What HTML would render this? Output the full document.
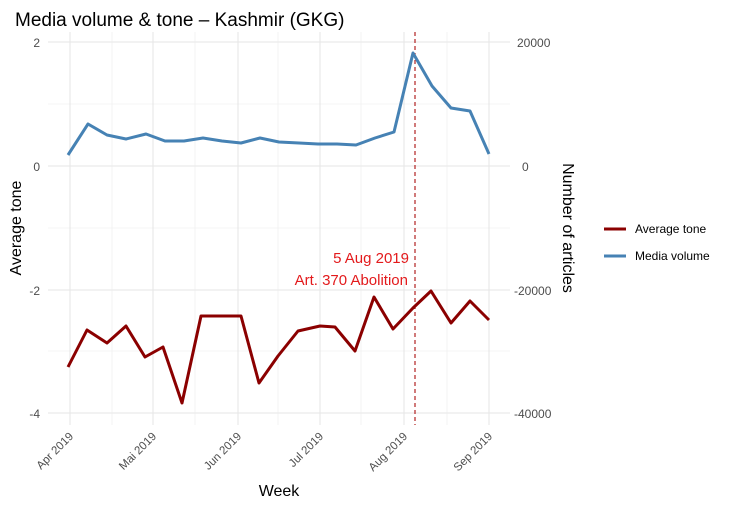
<!DOCTYPE html><html><head><style>body{margin:0;background:#fff}text{font-family:"Liberation Sans",sans-serif}</style></head><body>
<svg width="731" height="506" xmlns="http://www.w3.org/2000/svg">
<rect width="731" height="506" fill="#fff"/>
<g stroke="#ebebeb" stroke-width="0.6">
<line x1="48" x2="510" y1="104" y2="104"/><line x1="48" x2="510" y1="228" y2="228"/><line x1="48" x2="510" y1="351" y2="351"/>
<line x1="112" x2="112" y1="32" y2="425"/><line x1="195" x2="195" y1="32" y2="425"/><line x1="278" x2="278" y1="32" y2="425"/><line x1="361" x2="361" y1="32" y2="425"/><line x1="447" x2="447" y1="32" y2="425"/>
</g>
<g stroke="#e6e6e6" stroke-width="1.1">
<line x1="48" x2="510" y1="42" y2="42"/><line x1="48" x2="510" y1="166" y2="166"/><line x1="48" x2="510" y1="290" y2="290"/><line x1="48" x2="510" y1="413" y2="413"/>
<line x1="70" x2="70" y1="32" y2="425"/><line x1="153" x2="153" y1="32" y2="425"/><line x1="238" x2="238" y1="32" y2="425"/><line x1="320" x2="320" y1="32" y2="425"/><line x1="404" x2="404" y1="32" y2="425"/><line x1="489" x2="489" y1="32" y2="425"/>
</g>
<line x1="415" x2="415" y1="32" y2="425" stroke="#b22222" stroke-width="1.2" stroke-dasharray="4,3"/>
<polyline fill="none" stroke="#4682b4" stroke-width="3" stroke-linejoin="round" points="68,155 88,124 107,135 126,139 146,134 165,141 184,141 203,138 222,141 241,143 260,138 279,142 299,143 318,144 337,144 356,145 375,138 394,132 413,53 432,86 451,108 470,111 489,154"/>
<polyline fill="none" stroke="#8b0000" stroke-width="3" stroke-linejoin="round" points="68,367 87,330 107,343 126,326 145,357 163,347 182,403 201,316 241,316 259,383 278,356 298,331 320,326 335,327 355,351 374,297 393,329 413,308 431,291 451,323 470,301 489,320"/>
<text x="409" y="263" fill="#e31a1c" font-size="15" text-anchor="end">5 Aug 2019</text>
<text x="408" y="285" fill="#e31a1c" font-size="15" text-anchor="end">Art. 370 Abolition</text>
<g font-size="12" fill="#4d4d4d" text-anchor="end">
<text x="40" y="47">2</text><text x="40" y="171">0</text><text x="40" y="295">-2</text><text x="40" y="418">-4</text>
</g>
<g font-size="12" fill="#4d4d4d">
<text x="517" y="47">20000</text><text x="522" y="171">0</text><text x="514" y="295">-20000</text><text x="514" y="418">-40000</text>
</g>
<g font-size="11.5" fill="#4d4d4d" text-anchor="end">
<text transform="translate(74,437) rotate(-45)">Apr 2019</text>
<text transform="translate(157,437) rotate(-45)">Mai 2019</text>
<text transform="translate(242,437) rotate(-45)">Jun 2019</text>
<text transform="translate(324,437) rotate(-45)">Jul 2019</text>
<text transform="translate(408,437) rotate(-45)">Aug 2019</text>
<text transform="translate(493,437) rotate(-45)">Sep 2019</text>
</g>
<text x="279" y="496" font-size="16" text-anchor="middle" fill="#000">Week</text>
<text transform="translate(21,228) rotate(-90)" font-size="16" text-anchor="middle" fill="#000">Average tone</text>
<text transform="translate(563,228) rotate(90)" font-size="16" text-anchor="middle" fill="#000">Number of articles</text>
<text x="15" y="26" font-size="19" fill="#000">Media volume &amp; tone – Kashmir (GKG)</text>
<line x1="604" x2="626" y1="229" y2="229" stroke="#8b0000" stroke-width="3"/>
<line x1="604" x2="626" y1="256" y2="256" stroke="#4682b4" stroke-width="3"/>
<text x="635" y="233" font-size="12" fill="#000">Average tone</text>
<text x="635" y="260" font-size="12" fill="#000">Media volume</text>
</svg>
</body></html>
